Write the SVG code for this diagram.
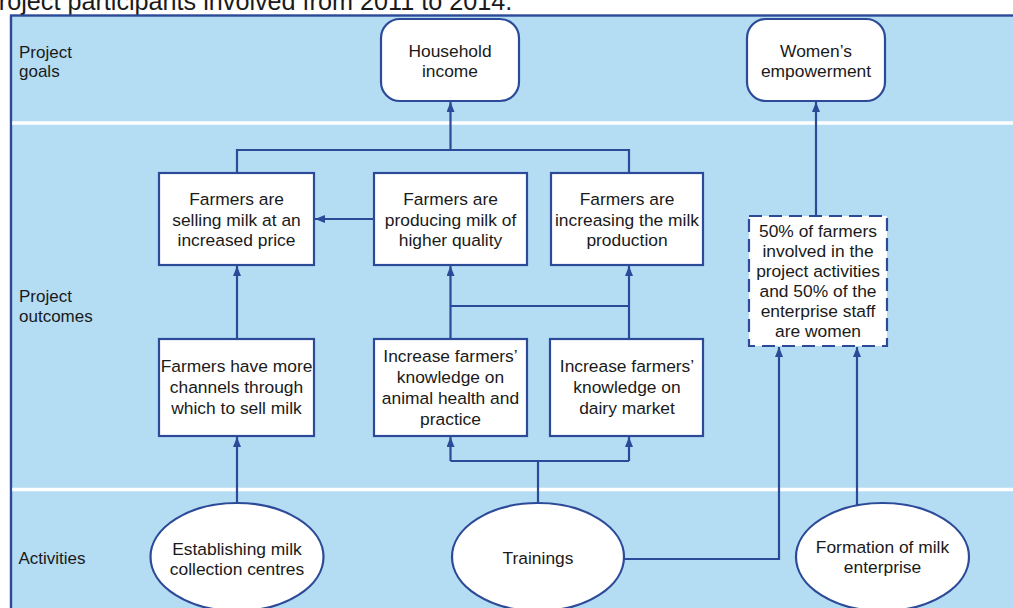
<svg xmlns="http://www.w3.org/2000/svg" width="1013" height="608" viewBox="0 0 1013 608">
<style>
text{font-family:"Liberation Sans",Arial,sans-serif;font-size:17.4px;fill:#1a1a1a}
.c{text-anchor:middle}
.lbl{font-size:17px}
.box{fill:#fff;stroke:#2c4a98;stroke-width:2.2}
.dash{stroke-dasharray:13 7}
.conn{fill:none;stroke:#2c4a98;stroke-width:2.2}
.sep{stroke:#fff;stroke-width:3.5}
</style>
<defs>
<marker id="ah" markerUnits="userSpaceOnUse" viewBox="0 0 10 8" refX="10" refY="4" markerWidth="10" markerHeight="8" orient="auto">
<path d="M0,0 L10,4 L0,8 z" fill="#2c4a98"/>
</marker>
</defs>
<rect width="1013" height="608" fill="#fff"/>
<text x="-18" y="10" style="font-size:25.2px">Project participants involved from 2011 to 2014.</text>
<rect x="11" y="15.5" width="1030" height="620" fill="#b4dcf3" stroke="#2c4a98" stroke-width="2.4"/>
<line class="sep" x1="12.2" y1="123" x2="1013" y2="123"/>
<line class="sep" x1="12.2" y1="489.5" x2="1013" y2="489.5"/>
<g id="row-labels">
<text class="lbl" x="19" y="58">Project</text>
<text class="lbl" x="19" y="77">goals</text>
<text class="lbl" x="19" y="302">Project</text>
<text class="lbl" x="19" y="322">outcomes</text>
<text class="lbl" x="18.5" y="563.5">Activities</text>
</g>
<g id="connectors">
<path class="conn" d="M237,173 V150 H629 V173"/>
<path class="conn" d="M450.5,150 V102" marker-end="url(#ah)"/>
<path class="conn" d="M374,219 H315" marker-end="url(#ah)"/>
<path class="conn" d="M816,216 V102" marker-end="url(#ah)"/>
<path class="conn" d="M237,339 V266" marker-end="url(#ah)"/>
<path class="conn" d="M237,503 V437" marker-end="url(#ah)"/>
<path class="conn" d="M450.5,339 V266" marker-end="url(#ah)"/>
<path class="conn" d="M629,339 V266" marker-end="url(#ah)"/>
<path class="conn" d="M450.5,306 H629"/>
<path class="conn" d="M538,503 V461"/>
<path class="conn" d="M450.5,461 H629"/>
<path class="conn" d="M450.5,461 V437" marker-end="url(#ah)"/>
<path class="conn" d="M629,461 V437" marker-end="url(#ah)"/>
<path class="conn" d="M624,559 H779 V347" marker-end="url(#ah)"/>
<path class="conn" d="M857,505 V347" marker-end="url(#ah)"/>
</g>
<g id="household-income">
<rect class="box" x="381" y="19" width="138" height="82" rx="19"/>
<text class="c" x="450" y="57">Household</text>
<text class="c" x="450" y="77">income</text>
</g>
<g id="womens-empowerment">
<rect class="box" x="747" y="19" width="138" height="82" rx="19"/>
<text class="c" x="816" y="57">Women’s</text>
<text class="c" x="816" y="76.5">empowerment</text>
</g>
<g id="selling-milk">
<rect class="box" x="159" y="173" width="155" height="92"/>
<text class="c" x="236.5" y="205">Farmers are</text>
<text class="c" x="236.5" y="225.5">selling milk at an</text>
<text class="c" x="236.5" y="246">increased price</text>
</g>
<g id="higher-quality">
<rect class="box" x="374" y="173" width="153" height="92"/>
<text class="c" x="450.5" y="205">Farmers are</text>
<text class="c" x="450.5" y="225.5">producing milk of</text>
<text class="c" x="450.5" y="246">higher quality</text>
</g>
<g id="increasing-production">
<rect class="box" x="551" y="173" width="152" height="92"/>
<text class="c" x="627" y="205">Farmers are</text>
<text class="c" x="627" y="225.5">increasing the milk</text>
<text class="c" x="627" y="246">production</text>
</g>
<g id="women-share">
<rect class="box dash" x="749" y="216" width="138" height="130"/>
<text class="c" x="818" y="237">50% of farmers</text>
<text class="c" x="818" y="257">involved in the</text>
<text class="c" x="818" y="277">project activities</text>
<text class="c" x="818" y="297">and 50% of the</text>
<text class="c" x="818" y="317">enterprise staff</text>
<text class="c" x="818" y="337">are women</text>
</g>
<g id="more-channels">
<rect class="box" x="159" y="339" width="155" height="97"/>
<text class="c" x="236.5" y="372">Farmers have more</text>
<text class="c" x="236.5" y="393">channels through</text>
<text class="c" x="236.5" y="414">which to sell milk</text>
</g>
<g id="knowledge-animal-health">
<rect class="box" x="374" y="339" width="153" height="97"/>
<text class="c" x="450.5" y="362">Increase farmers’</text>
<text class="c" x="450.5" y="383">knowledge on</text>
<text class="c" x="450.5" y="404">animal health and</text>
<text class="c" x="450.5" y="425">practice</text>
</g>
<g id="knowledge-dairy-market">
<rect class="box" x="550" y="339" width="153" height="97"/>
<text class="c" x="627" y="372">Increase farmers’</text>
<text class="c" x="627" y="393">knowledge on</text>
<text class="c" x="627" y="414">dairy market</text>
</g>
<g id="milk-collection">
<ellipse class="box" cx="237" cy="557" rx="86.5" ry="54"/>
<text class="c" x="237" y="555">Establishing milk</text>
<text class="c" x="237" y="575">collection centres</text>
</g>
<g id="trainings">
<ellipse class="box" cx="538" cy="557" rx="86" ry="54"/>
<text class="c" x="538" y="563.5">Trainings</text>
</g>
<g id="milk-enterprise">
<ellipse class="box" cx="882.5" cy="557" rx="86.5" ry="54"/>
<text class="c" x="882.5" y="553">Formation of milk</text>
<text class="c" x="882.5" y="573">enterprise</text>
</g>
</svg>
